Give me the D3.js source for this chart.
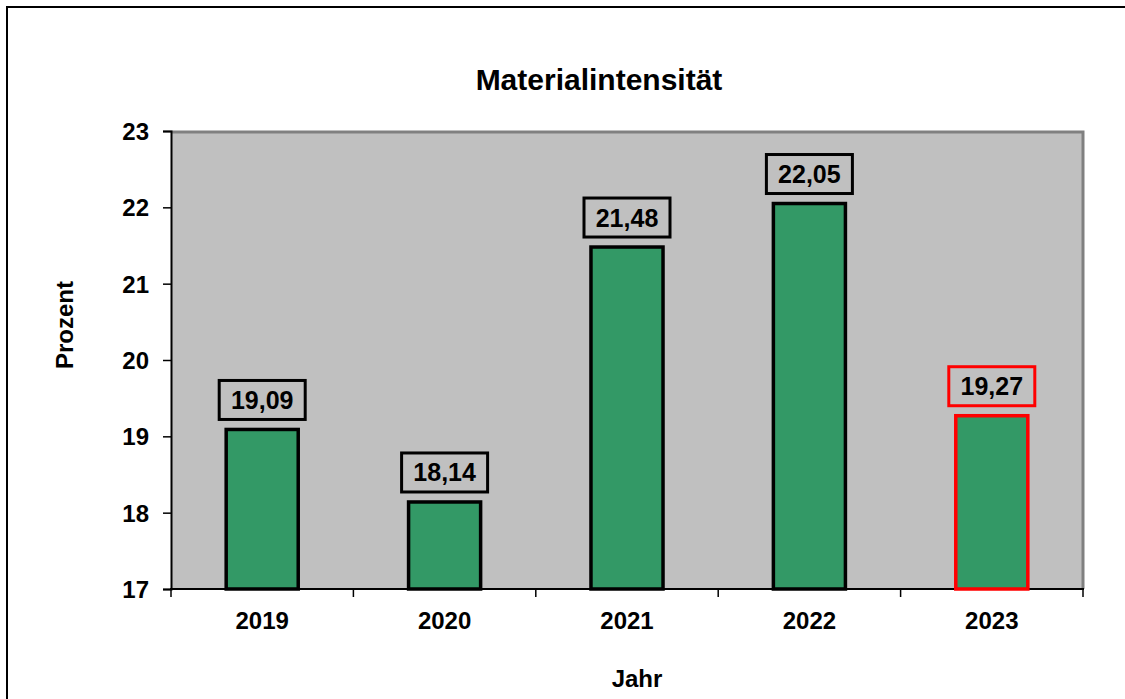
<!DOCTYPE html>
<html>
<head>
<meta charset="utf-8">
<script src="https://cdn.jsdelivr.net/npm/d3@7"></script>
<style>
  body { margin: 0; background: #fff; }
  svg text { font-family: 'Liberation Sans', Arial, sans-serif; font-weight: bold; fill: #000; }
</style>
</head>
<body>
<div class="chart"></div>
<script>
// values
const years = ['2019', '2020', '2021', '2022', '2023'];
const values = [19.09, 18.14, 21.48, 22.05, 19.27];
const highlightYear = '2023'; // this one gets the red outline
const yTicks = [17, 18, 19, 20, 21, 22, 23];

const W = 1125, H = 699;
const plot = { left: 171, top: 131, right: 1083, bottom: 589 };

const svg = d3.select('.chart').append('svg')
  .attr('width', W)
  .attr('height', H);

// outer frame (runs off the right and bottom edge)
svg.append('rect')
  .attr('x', 7).attr('y', 7)
  .attr('width', W + 20).attr('height', H + 20)
  .attr('fill', 'none')
  .attr('stroke', '#000')
  .attr('stroke-width', 2);

const x = d3.scaleBand()
  .domain(years)
  .range([plot.left, plot.right])
  .padding(0);

const y = d3.scaleLinear()
  .domain([17, 23])
  .range([plot.bottom, plot.top]);

// plot area background
svg.append('rect')
  .attr('x', plot.left).attr('y', plot.top)
  .attr('width', plot.right - plot.left)
  .attr('height', plot.bottom - plot.top)
  .attr('fill', '#c0c0c0');

// grey border top & right
svg.append('path')
  .attr('d', `M${plot.left},${plot.top + 1}H${plot.right}V${plot.bottom}`)
  .attr('fill', 'none')
  .attr('stroke', '#808080')
  .attr('stroke-width', 3);

// y axis
const yAxis = d3.axisLeft(y).tickValues(yTicks).tickFormat(d3.format('d')).tickSize(8).tickPadding(14);
const gy = svg.append('g')
  .attr('transform', `translate(${plot.left},0)`)
  .call(yAxis);
gy.select('.domain').attr('stroke', '#000').attr('stroke-width', 2);
gy.selectAll('.tick line').attr('stroke', '#000').attr('stroke-width', 1.5);
gy.selectAll('.tick text')
  .style('font-size', '24px')
  .attr('dy', '0.36em');

// x axis, ticks sit between the categories
const gx = svg.append('g')
  .attr('transform', `translate(0,${plot.bottom})`);
gx.append('line')
  .attr('x1', plot.left - 1).attr('x2', plot.right + 1)
  .attr('stroke', '#000').attr('stroke-width', 2);
gx.selectAll('.sep')
  .data(years.concat(['end']))
  .enter().append('line')
  .attr('class', 'sep')
  .attr('x1', (d, i) => plot.left + i * x.step())
  .attr('x2', (d, i) => plot.left + i * x.step())
  .attr('y1', 0).attr('y2', 8)
  .attr('stroke', '#000').attr('stroke-width', 1.5);
gx.selectAll('.lbl')
  .data(years)
  .enter().append('text')
  .attr('class', 'lbl')
  .attr('x', (d) => x(d) + x.bandwidth() / 2)
  .attr('y', 40)
  .attr('text-anchor', 'middle')
  .style('font-size', '24px')
  .text((d) => d);

// bars
const barW = x.bandwidth() * 0.395;
const data = years.map((yr, i) => ({ year: yr, value: values[i] }));

svg.selectAll('.bar')
  .data(data)
  .enter().append('rect')
  .attr('class', 'bar')
  .attr('x', (d) => x(d.year) + x.bandwidth() / 2 - barW / 2)
  .attr('y', (d) => y(d.value))
  .attr('width', barW)
  .attr('height', (d) => y(17) - y(d.value))
  .attr('fill', '#339966')
  .attr('stroke', (d) => (d.year === highlightYear ? '#ff0000' : '#000'))
  .attr('stroke-width', 3.5);

// value labels in boxes
const boxW = 86, boxH = 39;
const lab = svg.selectAll('.valLabel')
  .data(data)
  .enter().append('g')
  .attr('class', 'valLabel')
  .attr('transform', (d) => `translate(${x(d.year) + x.bandwidth() / 2},${y(d.value) - 10 - boxH / 2})`);

lab.append('rect')
  .attr('x', -boxW / 2).attr('y', -boxH / 2)
  .attr('width', boxW).attr('height', boxH)
  .attr('fill', 'none')
  .attr('stroke', (d) => (d.year === highlightYear ? '#ff0000' : '#000'))
  .attr('stroke-width', 3);

lab.append('text')
  .attr('text-anchor', 'middle')
  .attr('dy', '0.36em')
  .style('font-size', '25px')
  .text((d) => d3.format('.2f')(d.value).replace('.', ','));

// titles
svg.append('text')
  .attr('x', 599).attr('y', 90)
  .attr('text-anchor', 'middle')
  .style('font-size', '30px')
  .text('Materialintensität');

svg.append('text')
  .attr('x', 637).attr('y', 687)
  .attr('text-anchor', 'middle')
  .style('font-size', '24px')
  .text('Jahr');

svg.append('text')
  .attr('transform', 'translate(73,325) rotate(-90)')
  .attr('text-anchor', 'middle')
  .style('font-size', '24px')
  .text('Prozent');
</script>
</body>
</html>
